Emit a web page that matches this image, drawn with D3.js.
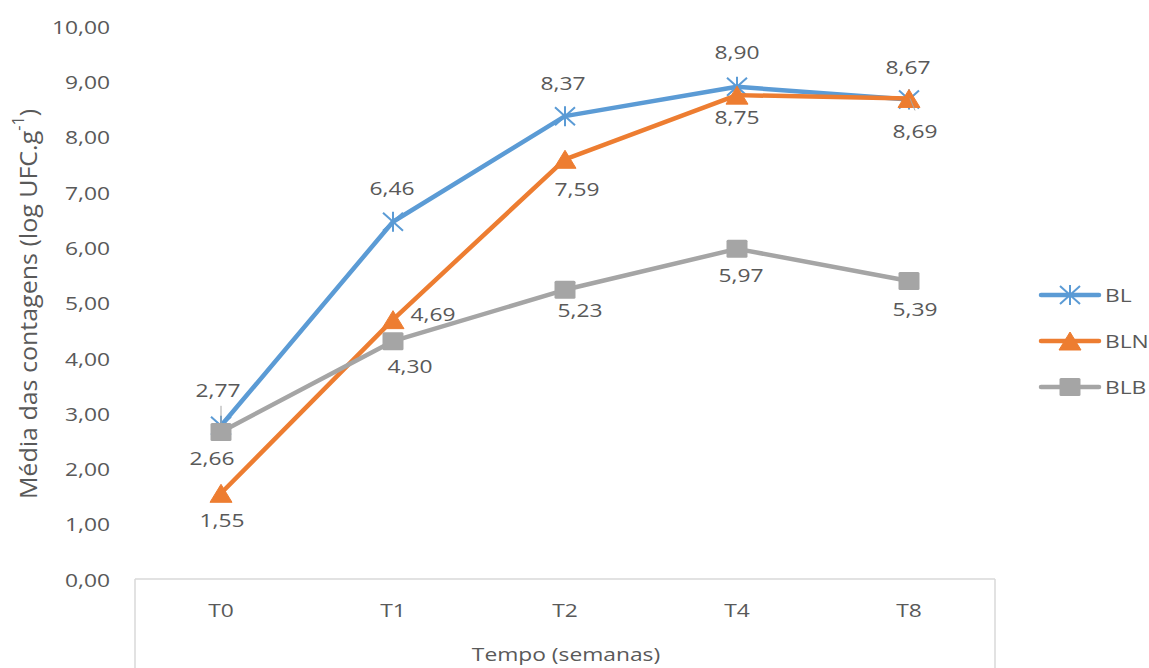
<!DOCTYPE html>
<html>
<head>
<meta charset="utf-8">
<script src="https://cdn.jsdelivr.net/npm/d3@7"></script>
<style>
  html, body { margin: 0; padding: 0; background: #fff; }
  svg { display: block; }
  text { font-family: "Open Sans", "Noto Sans", sans-serif; fill: #595959; }
</style>
</head>
<body>
<svg id="chart" width="1149" height="668"></svg>
<script>
// Sampling times and mean counts (log UFC/g) per treatment
const categories = ["T0", "T1", "T2", "T4", "T8"];
const seriesNames = ["BL", "BLN", "BLB"];
const valuesBL  = [2.77, 6.46, 8.37, 8.90, 8.67];
const valuesBLN = [1.55, 4.69, 7.59, 8.75, 8.69];
const valuesBLB = [2.66, 4.30, 5.23, 5.97, 5.39];
const yTicks = [0, 1, 2, 3, 4, 5, 6, 7, 8, 9, 10];

// Data-label placement relative to each point (dx, dy in px)
const labelNudgeBL  = [[-3, -36], [-1, -34], [-2, -33], [0, -35], [-1, -33]];
const labelNudgeBLN = [[1, 26], [40, -6], [12, 29], [0, 22], [6, 32]];
const labelNudgeBLB = [[-9, 26], [17, 25], [15, 20], [4, 26], [6, 28]];

const colors = { BL: "#5B9BD5", BLN: "#ED7D31", BLB: "#A5A5A5" };
const SX = 1.2;          // horizontal text stretch
const FONT = 19;

const series = [
  { name: "BL",  values: valuesBL,  nudge: labelNudgeBL,  marker: "star" },
  { name: "BLN", values: valuesBLN, nudge: labelNudgeBLN, marker: "triangle" },
  { name: "BLB", values: valuesBLB, nudge: labelNudgeBLB, marker: "square" }
];

const fmt = v => v.toFixed(2).replace(".", ",");

const svg = d3.select("#chart");
const plotLeft = 135, plotRight = 995, plotBottom = 579, plotTop = 26;

const x = d3.scaleBand().domain(categories).range([plotLeft, plotRight]).padding(0);
const y = d3.scaleLinear().domain([0, 10]).range([plotBottom, plotTop]);
const cx = c => x(c) + x.bandwidth() / 2;

// stretched text helper
function stretchedText(g, tx, ty, str, anchor) {
  return g.append("text")
    .attr("transform", `translate(${tx},${ty}) scale(${SX},1)`)
    .attr("text-anchor", anchor || "middle")
    .attr("dominant-baseline", "central")
    .style("font-size", FONT + "px")
    .text(str);
}

// Category frame below the plot
const frame = svg.append("g").attr("stroke", "#D9D9D9").attr("stroke-width", 1.5);
frame.append("line").attr("x1", plotLeft).attr("x2", plotRight).attr("y1", plotBottom).attr("y2", plotBottom);
frame.append("line").attr("x1", plotLeft).attr("x2", plotLeft).attr("y1", plotBottom).attr("y2", 668);
frame.append("line").attr("x1", plotRight).attr("x2", plotRight).attr("y1", plotBottom).attr("y2", 668);

// Y axis (labels only)
const yAxis = svg.append("g").attr("transform", `translate(${plotLeft},0)`)
  .call(d3.axisLeft(y).tickValues(yTicks).tickSize(0).tickFormat(d => fmt(d)));
yAxis.select(".domain").remove();
yAxis.selectAll(".tick text")
  .attr("x", null).attr("dy", null)
  .attr("transform", `translate(-25,0) scale(${SX},1)`)
  .attr("text-anchor", "end")
  .attr("dominant-baseline", "central")
  .style("font-size", FONT + "px")
  .attr("fill", "#595959");
yAxis.attr("font-family", null).attr("font-size", null);

// X axis (labels only)
const xAxis = svg.append("g").attr("transform", `translate(0,${plotBottom})`)
  .call(d3.axisBottom(x).tickSize(0));
xAxis.select(".domain").remove();
xAxis.selectAll(".tick text")
  .attr("y", null).attr("dy", null)
  .attr("transform", `translate(0,31) scale(${SX},1)`)
  .attr("dominant-baseline", "central")
  .style("font-size", FONT + "px")
  .attr("fill", "#595959");
xAxis.attr("font-family", null).attr("font-size", null);

// Axis titles
stretchedText(svg, 566, 654, "Tempo (semanas)");
const yt = svg.append("text")
  .attr("transform", `translate(27,304) rotate(-90) scale(1.25,${SX})`)
  .attr("text-anchor", "middle")
  .attr("dominant-baseline", "central")
  .style("font-size", "20px");
yt.append("tspan").text("Média das contagens (log UFC.g");
yt.append("tspan").attr("dy", -7).style("font-size", "13px").text("-1");
yt.append("tspan").attr("dy", 7).text(")");

// Marker shapes
function drawMarker(g, type, color) {
  if (type === "star") {
    g.append("path")
      .attr("d", "M-10,-9L10,9M-10,9L10,-9M0,-10L0,10")
      .attr("stroke", color).attr("stroke-width", 2).attr("fill", "none");
  } else if (type === "triangle") {
    g.append("path")
      .attr("d", "M0,-9L11,9L-11,9Z")
      .attr("fill", color).attr("stroke", color).attr("stroke-width", 1).attr("stroke-linejoin", "round");
  } else {
    g.append("rect").attr("x", -10.5).attr("y", -9).attr("width", 21).attr("height", 18)
      .attr("rx", 1.5).attr("fill", color);
  }
}

const line = d3.line().x(d => cx(d.c)).y(d => y(d.v));

series.forEach(s => {
  const pts = categories.map((c, i) => ({ c, v: s.values[i] }));
  const g = svg.append("g");
  g.append("path").datum(pts).attr("d", line)
    .attr("fill", "none").attr("stroke", colors[s.name]).attr("stroke-width", 4.5)
    .attr("stroke-linejoin", "round").attr("stroke-linecap", "round");
  pts.forEach(p => {
    const mg = g.append("g").attr("transform", `translate(${cx(p.c)},${y(p.v)})`);
    drawMarker(mg, s.marker, colors[s.name]);
  });
});

// Leader lines for labels moved away from their points
const leaders = svg.append("g").attr("stroke", "#A6A6A6").attr("stroke-width", 1);
{
  const px = cx("T0"), py = y(valuesBL[0]);
  leaders.append("line").attr("x1", px).attr("x2", px)
    .attr("y1", py + labelNudgeBL[0][1] + 16).attr("y2", py - 2);
  const qx = cx("T8"), qy = y(valuesBLN[4]);
  leaders.append("line").attr("x1", qx + 1).attr("x2", qx + labelNudgeBLN[4][0])
    .attr("y1", qy).attr("y2", qy + labelNudgeBLN[4][1] - 20);
}

// Data labels
const labels = svg.append("g");
series.forEach(s => {
  categories.forEach((c, i) => {
    const v = s.values[i];
    stretchedText(labels, cx(c) + s.nudge[i][0], y(v) + s.nudge[i][1], fmt(v));
  });
});

// Legend
const legend = svg.append("g");
series.forEach((s, i) => {
  const ly = 295 + i * 46;
  const lg = legend.append("g");
  lg.append("line").attr("x1", 1041).attr("x2", 1099).attr("y1", ly).attr("y2", ly)
    .attr("stroke", colors[s.name]).attr("stroke-width", 4.5).attr("stroke-linecap", "round");
  const mg = lg.append("g").attr("transform", `translate(1070,${ly})`);
  drawMarker(mg, s.marker, colors[s.name]);
  stretchedText(lg, 1105, ly, s.name, "start");
});
</script>
</body>
</html>
